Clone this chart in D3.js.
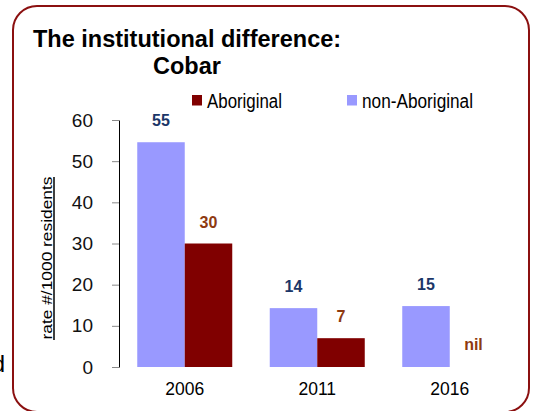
<!DOCTYPE html>
<html>
<head>
<meta charset="utf-8">
<script src="https://cdn.jsdelivr.net/npm/d3@7"></script>
<style>
  body { margin: 0; background: #fff; }
  svg text { font-family: "Liberation Sans", Arial, sans-serif; }
</style>
</head>
<body>
<svg id="chart" width="535" height="411"></svg>
<script>
// chart values
var years = ["2006", "2011", "2016"];
var nonAboriginal = [54.6, 14.3, 14.8];
var aboriginal = [30, 7, 0];
var nonAboriginalLabels = ["55", "14", "15"];
var aboriginalLabels = ["30", "7", "nil"];
var seriesNames = ["non-Aboriginal", "Aboriginal"];
var legendNames = ["Aboriginal", "non-Aboriginal"];
var yTicks = [0, 10, 20, 30, 40, 50, 60];

const colNon = "#9999ff";
const colAbo = "#800000";
const labNon = "#1b3668";
const labAbo = "#8e3a10";

var svg = d3.select("#chart");

// rounded frame (bottom edge runs just past the picture)
svg.append("rect")
  .attr("x", 13).attr("y", 6)
  .attr("width", 516).attr("height", 406)
  .attr("rx", 24).attr("ry", 24)
  .attr("fill", "none")
  .attr("stroke", "#8b1010")
  .attr("stroke-width", 2);

// clipped letter at far left
svg.append("text")
  .attr("x", 5).attr("y", 372)
  .attr("text-anchor", "end")
  .attr("font-size", 24)
  .text("d");

// title
svg.append("text")
  .attr("x", 33).attr("y", 47)
  .attr("font-size", 23.5).attr("font-weight", "bold")
  .text("The institutional difference:");
svg.append("text")
  .attr("x", 153).attr("y", 74)
  .attr("font-size", 23.5).attr("font-weight", "bold")
  .text("Cobar");

var y = d3.scaleLinear().domain([0, 60]).range([367, 120]);
var x0 = d3.scaleBand().domain(years).range([118.5, 516])
  .paddingInner(0.283).paddingOuter(0.1415);
var x1 = d3.scaleBand().domain(seriesNames).range([0, x0.bandwidth()]);

var rows = years.map(function(yr, i) {
  return {year: yr,
    vals: [
      {s: "non-Aboriginal", v: nonAboriginal[i], lab: nonAboriginalLabels[i], c: colNon, lc: labNon},
      {s: "Aboriginal", v: aboriginal[i], lab: aboriginalLabels[i], c: colAbo, lc: labAbo}
    ]};
});

var groups = svg.append("g").selectAll("g")
  .data(rows).enter().append("g")
  .attr("transform", function(d) { return "translate(" + x0(d.year) + ",0)"; });

groups.selectAll("rect")
  .data(function(d) { return d.vals; })
  .enter().append("rect")
  .attr("x", function(d) { return x1(d.s); })
  .attr("y", function(d) { return y(d.v); })
  .attr("width", x1.bandwidth())
  .attr("height", function(d) { return y(0) - y(d.v); })
  .attr("fill", function(d) { return d.c; });

groups.selectAll("text")
  .data(function(d) { return d.vals; })
  .enter().append("text")
  .attr("x", function(d) { return x1(d.s) + x1.bandwidth() / 2; })
  .attr("y", function(d) { return y(d.v) - (d.v === 0 ? 17 : 16); })
  .attr("text-anchor", "middle")
  .attr("font-size", 16).attr("font-weight", "bold")
  .attr("fill", function(d) { return d.lc; })
  .text(function(d) { return d.lab; });

// y axis
var yAxis = d3.axisLeft(y).tickValues(yTicks).tickSize(7).tickSizeOuter(0).tickPadding(19);
var ga = svg.append("g").attr("transform", "translate(119,0)").call(yAxis);
ga.select(".domain").attr("stroke", "#000");
ga.selectAll(".tick line").attr("stroke", "#888");
ga.selectAll(".tick text").attr("font-size", 19).attr("fill", "#111")
  .attr("font-family", "Liberation Sans, Arial, sans-serif");

// x labels
svg.append("g").selectAll("text")
  .data(years).enter().append("text")
  .attr("x", function(d) { return x0(d) + x0.bandwidth() / 2; })
  .attr("y", 395)
  .attr("text-anchor", "middle")
  .attr("font-size", 17.5)
  .text(function(d) { return d; });

// y axis title, underlined
svg.append("text")
  .attr("transform", "translate(51.5,258) rotate(-90)")
  .attr("text-anchor", "middle")
  .attr("font-size", 15)
  .attr("textLength", 163).attr("lengthAdjust", "spacingAndGlyphs")
  .text("rate #/1000 residents");
svg.append("line")
  .attr("x1", 54).attr("x2", 54).attr("y1", 177).attr("y2", 340)
  .attr("stroke", "#000").attr("stroke-width", 1.5);

// legend
var legX = [192, 347];
var legW = [75, 111];
var leg = svg.append("g").selectAll("g")
  .data(legendNames).enter().append("g")
  .attr("transform", function(d, i) { return "translate(" + legX[i] + ",95)"; });
leg.append("rect")
  .attr("width", 10).attr("height", 10.5)
  .attr("fill", function(d) { return d === "Aboriginal" ? colAbo : colNon; });
leg.append("text")
  .attr("x", 15).attr("y", 12.5)
  .attr("font-size", 20)
  .attr("textLength", function(d, i) { return legW[i]; })
  .attr("lengthAdjust", "spacingAndGlyphs")
  .text(function(d) { return d; });
</script>
</body>
</html>
